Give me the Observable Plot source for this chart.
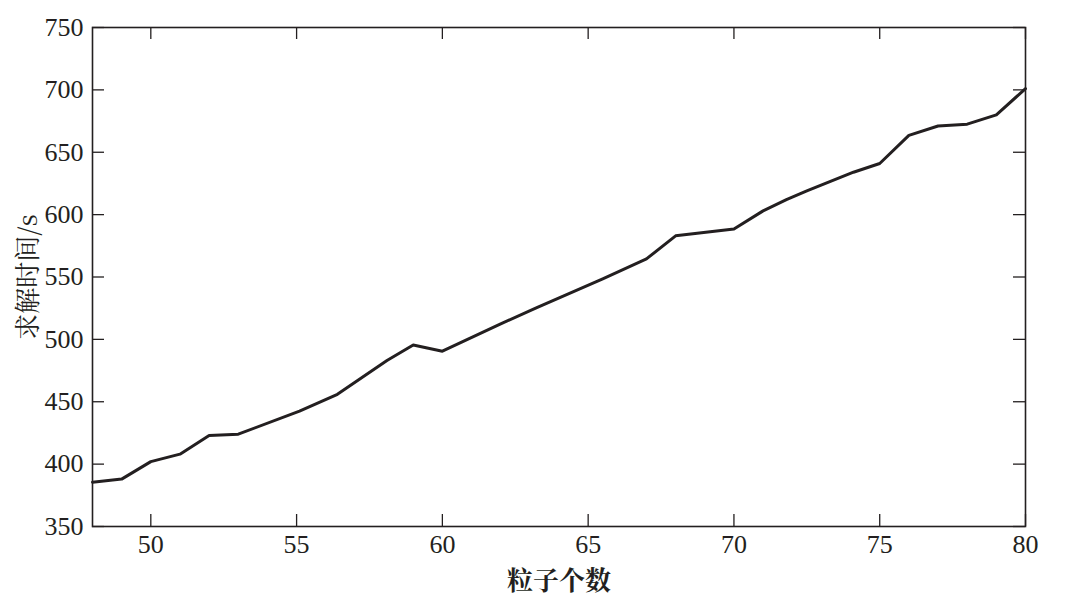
<!DOCTYPE html>
<html>
<head>
<meta charset="utf-8">
<script src="https://cdn.jsdelivr.net/npm/d3@7"></script>
<script src="https://cdn.jsdelivr.net/npm/@observablehq/plot@0.6"></script>
<style>
  html, body { margin: 0; padding: 0; background: #fff; }
  #chart svg { display: block; }
</style>
</head>
<body>
<div id="chart"></div>
<script>
// Data
const particleCount = [48, 49, 50, 51, 52, 53, 55.1, 56.4, 58.1, 59, 60, 62, 63.2, 65.5, 67, 68, 70, 71, 71.8, 72.5, 74.1, 75, 76, 77, 78, 79, 80];
const solveTime     = [385.5, 388, 402, 408, 423, 424, 442.5, 456, 483, 495.5, 490.5, 512.5, 525, 548.5, 564.5, 583, 588.5, 603, 612, 619, 634, 641, 663.5, 671, 672.5, 680, 701];
const xTicks = [50, 55, 60, 65, 70, 75, 80];
const yTicks = [350, 400, 450, 500, 550, 600, 650, 700, 750];
const xLabel = ["粒子个数"];
const yLabel = ["求解时间/s"];

const data = particleCount.map((x, i) => ({x, y: solveTime[i]}));

const W = 1080, H = 608;
const mL = 92, mR = 55, mT = 27, mB = 82;
const plotW = W - mL - mR, plotH = H - mT - mB;
const tick = 12;
const ink = "#231f20";
const numFont = "Liberation Serif";
const cjkFont = "Noto Serif CJK SC";

const chart = Plot.plot({
  width: W,
  height: H,
  marginLeft: mL,
  marginRight: mR,
  marginTop: mT,
  marginBottom: mB,
  x: {domain: [48, 80], axis: null},
  y: {domain: [350, 750], axis: null},
  marks: [
    // tick labels
    Plot.text(xTicks, {x: d => d, text: d => String(d), frameAnchor: "bottom", dy: 18, lineAnchor: "middle", textAnchor: "middle", fontSize: 26, fontFamily: numFont, fill: ink}),
    Plot.text(yTicks, {y: d => d, text: d => String(d), frameAnchor: "left", dx: -9, lineAnchor: "middle", textAnchor: "end", fontSize: 26, fontFamily: numFont, fill: ink}),
    // inward ticks on all four sides
    Plot.ruleX(xTicks, {x: d => d, insetTop: plotH - tick, stroke: ink, strokeWidth: 1.3}),
    Plot.ruleX(xTicks, {x: d => d, insetBottom: plotH - tick, stroke: ink, strokeWidth: 1.3}),
    Plot.ruleY(yTicks, {y: d => d, insetRight: plotW - tick, stroke: ink, strokeWidth: 1.3}),
    Plot.ruleY(yTicks, {y: d => d, insetLeft: plotW - tick, stroke: ink, strokeWidth: 1.3}),
    Plot.frame({stroke: ink, strokeWidth: 1.6}),
    // the data line
    Plot.line(data, {x: "x", y: "y", stroke: ink, strokeWidth: 3, strokeLinejoin: "round"}),
    // axis titles
    Plot.text(xLabel, {text: d => d, frameAnchor: "bottom", dy: 55, fontSize: 26, fontFamily: cjkFont, fontWeight: "bold", fill: ink, lineAnchor: "middle", textAnchor: "middle"}),
    Plot.text(yLabel, {text: d => d, frameAnchor: "left", dx: -64, rotate: -90, fontSize: 26, fontFamily: cjkFont, fill: ink, lineAnchor: "middle", textAnchor: "middle"})
  ]
});

document.getElementById("chart").appendChild(chart);
</script>
</body>
</html>
